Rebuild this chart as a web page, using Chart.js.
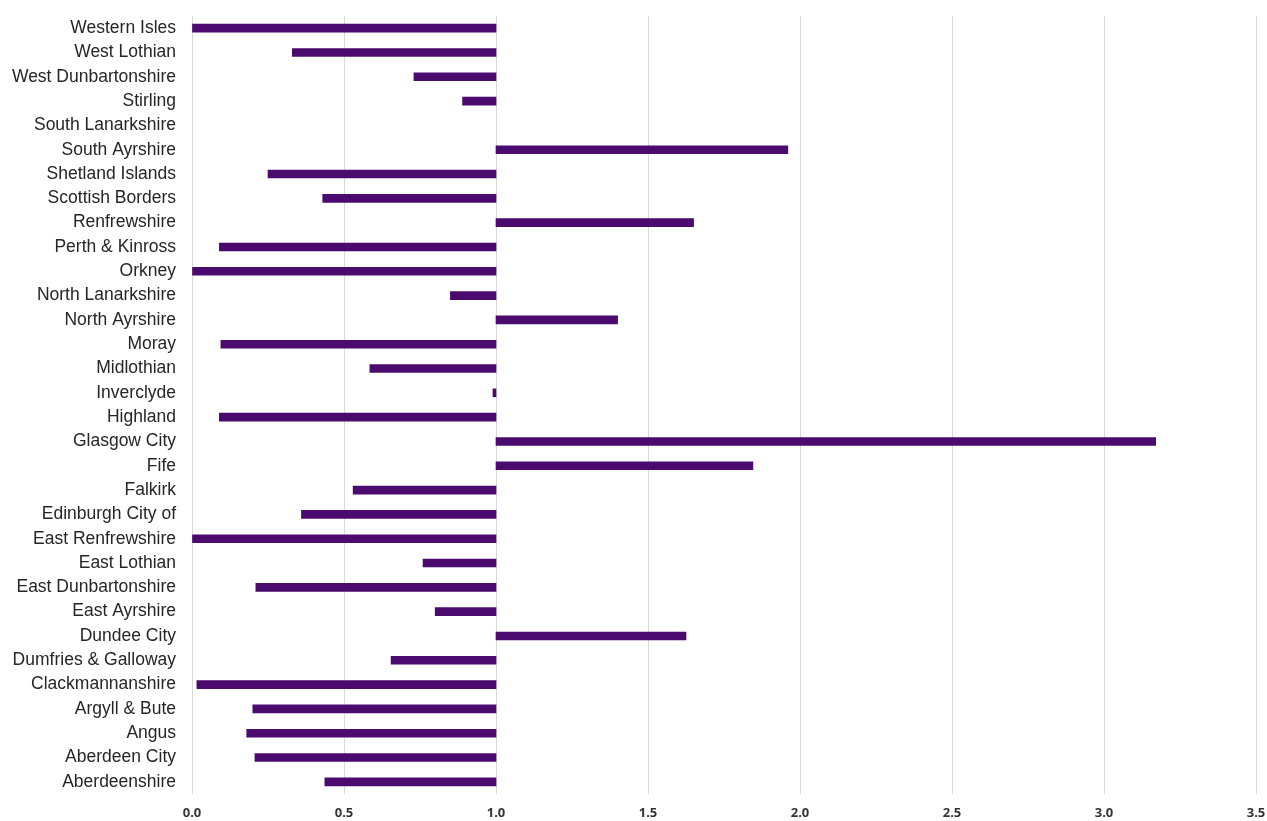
<!DOCTYPE html>
<html>
<head>
<meta charset="utf-8">
<script src="https://cdn.jsdelivr.net/npm/chart.js@4/dist/chart.umd.min.js"></script>
<style>
html,body{margin:0;padding:0;background:#fff;}
#wrap{width:1267px;height:821px;position:relative;}
</style>
</head>
<body>
<div id="wrap"><canvas id="c" width="1267" height="821"></canvas></div>
<script>
const categories = [
  "Western Isles","West Lothian","West Dunbartonshire","Stirling","South Lanarkshire",
  "South Ayrshire","Shetland Islands","Scottish Borders","Renfrewshire","Perth & Kinross",
  "Orkney","North Lanarkshire","North Ayrshire","Moray","Midlothian","Inverclyde",
  "Highland","Glasgow City","Fife","Falkirk","Edinburgh City of","East Renfrewshire",
  "East Lothian","East Dunbartonshire","East Ayrshire","Dundee City","Dumfries & Galloway",
  "Clackmannanshire","Argyll & Bute","Angus","Aberdeen City","Aberdeenshire"
];
const values = [
  0.00, 0.33, 0.73, 0.89, 1.00,
  1.96, 0.25, 0.43, 1.65, 0.09,
  0.00, 0.85, 1.40, 0.095, 0.585, 0.99,
  0.09, 3.17, 1.845, 0.53, 0.36, 0.00,
  0.76, 0.21, 0.80, 1.625, 0.655,
  0.016, 0.20, 0.18, 0.207, 0.437
];
const baseline = 1.0;
const xTicks = [0.0, 0.5, 1.0, 1.5, 2.0, 2.5, 3.0, 3.5];

new Chart(document.getElementById('c'), {
  type: 'bar',
  data: {
    labels: categories,
    datasets: [{
      data: values.map(v => v === baseline ? null : [baseline, v]),
      backgroundColor: '#4B0A6E',
      borderWidth: 0,
      barThickness: 8
    }]
  },
  options: {
    indexAxis: 'y',
    responsive: false,
    animation: false,
    layout: { padding: { top: 16, right: 11, left: 0, bottom: 0 } },
    plugins: { legend: { display: false }, tooltip: { enabled: false } },
    scales: {
      x: {
        min: 0, max: 3.5,
        afterBuildTicks: s => { s.ticks = xTicks.map(v => ({ value: v })); },
        afterFit: s => { s.height = 27; s.paddingLeft = 0; s.paddingRight = 0; },
        grid: { color: '#d9d9d9', lineWidth: 1, drawTicks: false },
        border: { display: false },
        ticks: {
          padding: 11,
          color: '#333333',
          font: { family: 'Open Sans', size: 13, weight: 'bold' },
          callback: v => Number(v).toFixed(1)
        }
      },
      y: {
        afterFit: s => { s.width = 192; s.paddingTop = 0; s.paddingBottom = 0; },
        grid: { display: false, drawTicks: false },
        border: { display: false },
        ticks: {
          padding: 16,
          color: '#262626',
          autoSkip: false,
          font: { family: 'Liberation Sans', size: 17.5 }
        }
      }
    }
  }
});
</script>
</body>
</html>
